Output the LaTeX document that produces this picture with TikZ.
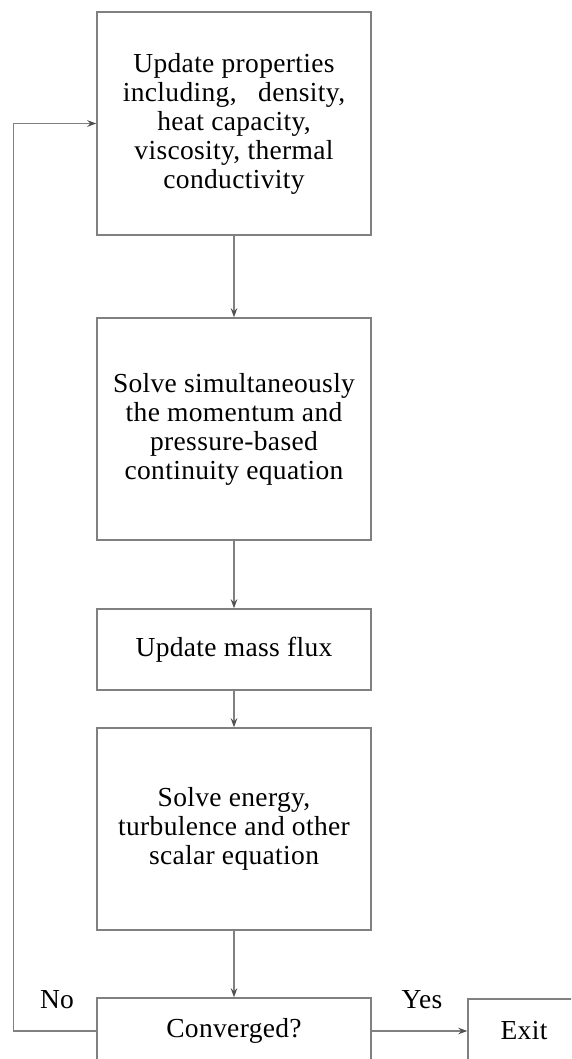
\documentclass[tikz,border=0pt]{standalone}
\usepackage{fontspec}
\setmainfont[LetterSpace=1.2]{Liberation Serif}
\usetikzlibrary{arrows.meta,positioning,calc}
\definecolor{linegray}{RGB}{128,128,128}
\definecolor{tipgray}{RGB}{80,80,80}
\tikzset{
  procbox/.style={draw=linegray,line width=1.4pt,rectangle,align=center,
    minimum width=274pt,inner sep=0pt,
    font=\fontsize{27.5}{29}\selectfont},
  flowarrow/.style={draw=linegray,line width=1.4pt,
    -{Stealth[length=9pt,width=6.5pt,color=tipgray]}},
  lbl/.style={font=\fontsize{27.5}{29}\selectfont,inner sep=0pt}
}
\begin{document}
\begin{tikzpicture}[x=1pt,y=-1pt]
\useasboundingbox (0,0) rectangle (571,1059);
\clip (0,0) rectangle (571,1059);
\node[procbox,minimum height=223pt] (b1) at (234,123.5)
  {Update properties\\including,\ \ \ density,\\heat capacity,\\viscosity, thermal\\conductivity};
\node[procbox,minimum height=222pt] (b2) at (234,429)
  {Solve simultaneously\\the momentum and\\pressure-based\\continuity equation};
\node[procbox,minimum height=81pt] (b3) at (234,649.5)
  {Update mass flux};
\node[procbox,minimum height=202pt] (b4) at (234,829)
  {Solve energy,\\turbulence and other\\scalar equation};
\node[procbox,minimum height=66pt] (conv) at (234,1031)
  {Converged?};
\node[procbox,minimum width=112pt,minimum height=64pt] (exit) at (524,1031)
  {Exit};
\coordinate (lb) at (13.5,1031);
\coordinate (lt) at (13.5,123.5);
\draw[flowarrow] (b1) -- (b2);
\draw[flowarrow] (b2) -- (b3);
\draw[flowarrow] (b3) -- (b4);
\draw[flowarrow] (b4) -- (conv);
\draw[flowarrow] (conv) -- (exit);
\draw[flowarrow] (conv.west) -- (lb) -- (lt) -- (b1.west);
\node[lbl] (no) at (57,1000) {No};
\node[lbl] (yes) at (422,1000) {Yes};
\end{tikzpicture}
\end{document}
